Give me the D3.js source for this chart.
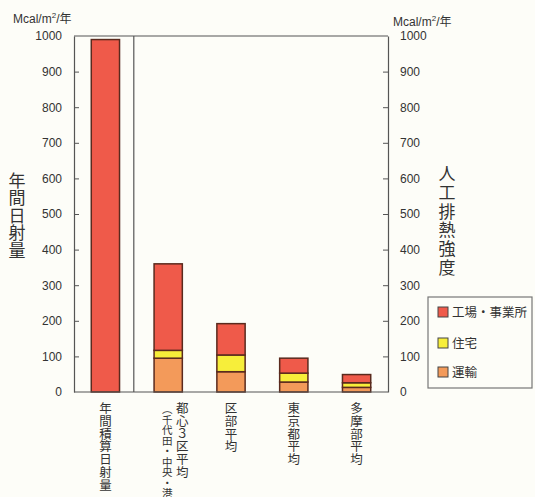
<!DOCTYPE html>
<html><head><meta charset="utf-8">
<script src="https://cdn.jsdelivr.net/npm/d3@7"></script>
<style>
html,body{margin:0;padding:0;background:#fdfdf8;}
svg{display:block;}
text{font-family:"Liberation Sans","Noto Sans CJK JP",sans-serif;fill:#333;}
.cjk{font-family:"Noto Sans CJK JP",sans-serif;}
</style></head>
<body>
<script>
// ---- data ----
const categories = ["年間積算日射量", "都心3区平均", "区部平均", "東京都平均", "多摩部平均"];
const labelLines = [["年間積算日射量"], ["都心３区平均", "（千代田・中央・港）"], ["区部平均"], ["東京都平均"], ["多摩部平均"]];
const solar     = [990, 0, 0, 0, 0];
const transport = [0, 95, 57, 28, 13];
const housing   = [0, 22, 47, 25, 13];
const factory   = [0, 243, 88, 42, 23];
const yTicks = [0, 100, 200, 300, 400, 500, 600, 700, 800, 900, 1000];
const legendKeys = ["factory", "housing", "transport"];
const legendLabels = ["工場・事業所", "住宅", "運輸"];
const leftTitle = "年間日射量";
const rightTitle = "人工排熱強度";

// ---- styles ----
const colors = {solar: "#ef5a4a", factory: "#ef5a4a", housing: "#f7ee3a", transport: "#f39a5a"};
const W = 535, H = 497;
const L = 74, R = 388, T = 36, B = 392;

const svg = d3.select("body").append("svg").attr("width", W).attr("height", H);

const x = d3.scaleBand().domain(categories).range([L, R]).paddingInner(0.55).paddingOuter(0.275);
const y = d3.scaleLinear().domain([0, 1000]).range([B, T]);

const table = categories.map((c, i) => ({cat: c, transport: transport[i], housing: housing[i], factory: factory[i], solar: solar[i]}));
const stack = d3.stack().keys(["transport", "housing", "factory", "solar"]);
const series = stack(table);

// frame
svg.append("line").attr("x1", L).attr("x2", R).attr("y1", y(1000)).attr("y2", y(1000)).attr("stroke", "#555").attr("stroke-width", 1.2);
const sepX = x(categories[0]) + x.bandwidth() + (x.step() - x.bandwidth()) / 2 - 3;
svg.append("line").attr("x1", sepX).attr("x2", sepX).attr("y1", y(1000)).attr("y2", y(0)).attr("stroke", "#555").attr("stroke-width", 1.2);

// bars
svg.append("g").selectAll("g").data(series).join("g")
  .attr("fill", d => colors[d.key])
  .selectAll("rect").data(d => d.filter(p => p[1] - p[0] > 0)).join("rect")
  .attr("x", d => x(d.data.cat))
  .attr("width", x.bandwidth())
  .attr("y", d => y(d[1]))
  .attr("height", d => y(d[0]) - y(d[1]))
  .attr("stroke", "#5a2a1e").attr("stroke-width", 1.5);

// axes
const fmt = d3.format("d");
const gl = svg.append("g").attr("transform", `translate(${L},0)`)
  .call(d3.axisLeft(y).tickValues(yTicks).tickFormat(fmt).tickSizeInner(-5).tickSizeOuter(0).tickPadding(12));
const gr = svg.append("g").attr("transform", `translate(${R},0)`)
  .call(d3.axisRight(y).tickValues(yTicks).tickFormat(fmt).tickSizeInner(-5).tickSizeOuter(0).tickPadding(12));
[gl, gr].forEach(g => {
  g.select(".domain").attr("stroke", "#555").attr("stroke-width", 1.2);
  g.selectAll(".tick line").attr("stroke", "#555");
  g.selectAll(".tick text").attr("font-size", 12).attr("fill", "#333")
    .attr("font-family", "Liberation Sans, sans-serif");
  g.selectAll(".tick").filter(d => d === 0 || d === 1000).select("line").remove();
});
// bottom axis line
svg.append("line").attr("x1", L).attr("x2", R).attr("y1", y(0)).attr("y2", y(0)).attr("stroke", "#555").attr("stroke-width", 1.2);

// units
function units(xp, yp) {
  const t = svg.append("text").attr("x", xp).attr("y", yp).attr("font-size", 12);
  t.append("tspan").text("Mcal/m");
  t.append("tspan").text("2").attr("font-size", 8).attr("dy", -5);
  t.append("tspan").text("/年").attr("dy", 5);
}
units(13, 23);
units(393, 26);

// vertical text helper
function vtext(xp, yp, str, size, ls) {
  return svg.append("text").attr("class", "cjk").attr("x", xp).attr("y", yp)
    .attr("font-size", size)
    .style("writing-mode", "vertical-rl")
    .style("letter-spacing", ls + "px")
    .attr("fill", "#333")
    .text(str);
}
vtext(17, 172, leftTitle, 17, 0.5);
vtext(447, 165, rightTitle, 17, 1.8);

// category labels
labelLines.forEach((lines, i) => {
  const cx = x(categories[i]) + x.bandwidth() / 2;
  lines.forEach((ln, j) => {
    if (lines.length > 1 && j === 1) {
      vtext(cx - 1, 404, ln, 10.5, 0);
    } else {
      vtext(cx + (lines.length > 1 ? 14 : 0), 402, ln, 12.5, 0.3);
    }
  });
});

// legend
svg.append("rect").attr("x", 428).attr("y", 297).attr("width", 104).attr("height", 91)
  .attr("fill", "none").attr("stroke", "#777").attr("stroke-width", 1.2);
const legY = [312, 343, 372];
legendKeys.forEach((k, i) => {
  svg.append("rect").attr("x", 438).attr("y", legY[i] - 5).attr("width", 10).attr("height", 10)
    .attr("fill", colors[k]).attr("stroke", "#444").attr("stroke-width", 1);
  svg.append("text").attr("class", "cjk").attr("x", 452).attr("y", legY[i]).attr("dy", "0.36em")
    .attr("font-size", 12.5).text(legendLabels[i]);
});
</script>
</body></html>
